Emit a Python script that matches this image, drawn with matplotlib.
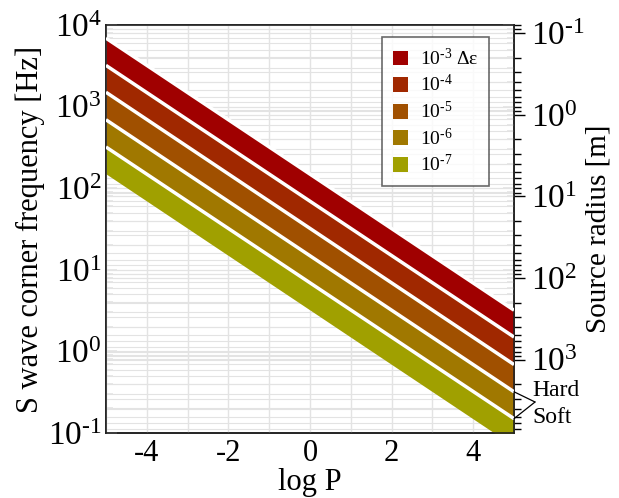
import numpy as np
import matplotlib
matplotlib.use("Agg")
import matplotlib.pyplot as plt
from matplotlib.patches import Patch
from matplotlib.ticker import LogLocator, NullFormatter, MultipleLocator

plt.rcParams['font.family'] = ['Liberation Serif', 'DejaVu Serif']
plt.rcParams['mathtext.fontset'] = 'custom'
plt.rcParams['mathtext.rm'] = 'Liberation Serif'
plt.rcParams['axes.unicode_minus'] = False

# band edges, corner frequency [Hz] at log P = -5 and 5
log_p = [-5, 5]
strain_exp = [-3, -4, -5, -6, -7]
hard_fc = [[6900, 3.2], [3200, 1.5], [1500, 0.69], [690, 0.32], [320, 0.15]]
soft_fc = [[3200, 1.5], [1500, 0.69], [690, 0.32], [320, 0.15], [150, 0.069]]
band_colors = ['#a00000', '#a02800', '#a05000', '#a07800', '#a0a000']

# source radius r = k / f
radius_k = 10 ** 2.9
left_ticks = [0.1, 1, 10, 100, 1000, 10000]
right_ticks = [0.1, 1, 10, 100, 1000]


def pow_label(e):
    # short hyphen instead of the wide minus sign
    s = str(e).replace('-', '\u2010')
    return r'$\mathregular{10^{%s}}$' % s


fig = plt.figure(figsize=(6.19, 4.98), dpi=100)
ax = fig.add_axes([0.1712, 0.1305, 0.6592, 0.8193])
ax2 = ax.twinx()
ax.set_zorder(ax2.get_zorder() + 1)
ax.patch.set_visible(False)

ax.set_yscale('log')
ax.set_xlim(-5, 5)
ax.set_ylim(0.1, 1e4)

for i in range(len(strain_exp)):
    ax.fill_between(log_p, soft_fc[i], hard_fc[i], color=band_colors[i], lw=0, zorder=2)
for i in range(len(strain_exp)):
    ax.plot(log_p, hard_fc[i], color='white', lw=2.5, zorder=3, solid_capstyle='butt')

# grids
gc = '#e3e3e3'
ax.set_axisbelow(True)
ax.xaxis.set_major_locator(MultipleLocator(2))
ax.xaxis.set_minor_locator(MultipleLocator(1))
ax.grid(True, which='both', axis='x', color=gc, lw=1)
ax.yaxis.set_minor_locator(LogLocator(base=10, subs=np.arange(2, 10)))
ax.yaxis.set_minor_formatter(NullFormatter())
ax.grid(True, which='both', axis='y', color=gc, lw=0.8)

ax.set_yticks(left_ticks)
ax.set_yticklabels([pow_label(int(np.log10(t))) for t in left_ticks])
ax.tick_params(axis='y', which='both', direction='in', color='#e4e4e4', right=True,
               labelsize=24, width=1.2, pad=3)
ax.tick_params(axis='y', which='major', length=8)
ax.tick_params(axis='y', which='minor', length=5)
ax.tick_params(axis='x', which='both', length=0, labelsize=22, pad=4)
ax.set_xticks([-4, -2, 0, 2, 4])

ax2.set_yscale('log')
ax2.set_ylim(radius_k / 0.1, radius_k / 1e4)
ax2.yaxis.set_minor_locator(LogLocator(base=10, subs=np.arange(2, 10)))
ax2.yaxis.set_minor_formatter(NullFormatter())
ax2.set_yticks(right_ticks)
ax2.set_yticklabels([pow_label(int(np.log10(t))) for t in right_ticks])
ax2.grid(True, which='both', axis='y', color=gc, lw=0.8)
ax2.tick_params(axis='y', which='both', direction='out', color='black', labelsize=24,
                width=1, pad=4)
ax2.tick_params(axis='y', which='major', length=8)
ax2.tick_params(axis='y', which='minor', length=5)

for a in (ax, ax2):
    for s in a.spines.values():
        s.set_color('#222222')
        s.set_linewidth(1.2)

ax.set_xlabel('log P', fontsize=22, labelpad=0)
ax.set_ylabel('S wave corner frequency [Hz]', fontsize=22, labelpad=2)
ax2.set_ylabel('Source radius [m]', fontsize=21, labelpad=1)

handles = [Patch(facecolor=c, edgecolor='none') for c in band_colors]
labels = [pow_label(e) for e in strain_exp]
labels[0] = labels[0] + ' Δε'
leg = ax.legend(handles, labels, loc='upper right', bbox_to_anchor=(0.939, 0.971),
                fontsize=14, frameon=True, fancybox=False, edgecolor='#444444',
                handlelength=0.8, handleheight=0.8, labelspacing=0.28,
                borderpad=0.55, handletextpad=0.6, borderaxespad=0)
leg.get_frame().set_linewidth(1.2)

# hard / soft marker on the 10^-6 band
apex = (1.0515, 0.076)
for fc in (hard_fc[3][1], soft_fc[3][1]):
    ax.annotate('', xy=(log_p[1], fc), xycoords='data', xytext=apex,
                textcoords='axes fraction',
                arrowprops=dict(arrowstyle='-', lw=0.9, color='black',
                                shrinkA=0, shrinkB=0), annotation_clip=False)
ax.text(1.045, 0.105, 'Hard', transform=ax.transAxes, fontsize=17, va='center', ha='left')
ax.text(1.045, 0.037, 'Soft', transform=ax.transAxes, fontsize=17, va='center', ha='left')

fig.savefig('out.png', dpi=100)
